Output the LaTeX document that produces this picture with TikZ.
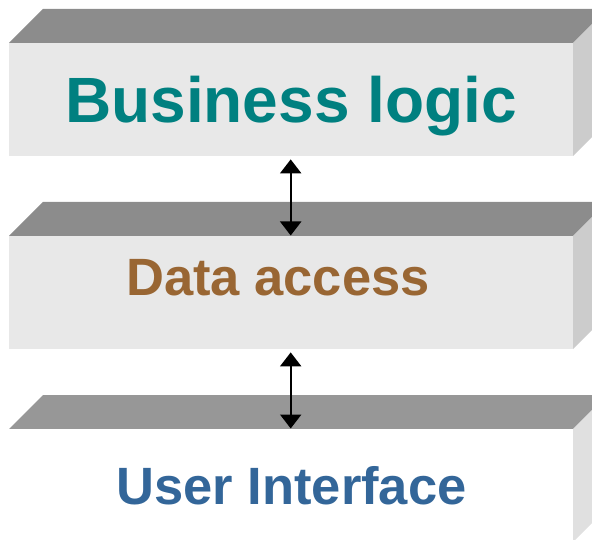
\documentclass[tikz,border=0pt]{standalone}
\usepackage{fontspec}
\setmainfont{Liberation Sans}
\usetikzlibrary{arrows.meta}
\definecolor{topA}{HTML}{8C8C8C}
\definecolor{topB}{HTML}{979797}
\definecolor{frontA}{HTML}{E8E8E8}
\definecolor{sideA}{HTML}{CCCCCC}
\definecolor{sideB}{HTML}{E0E0E0}
\definecolor{teal}{HTML}{008080}
\definecolor{brownc}{HTML}{996633}
\definecolor{bluec}{HTML}{336699}
\tikzset{
  front/.style={draw=none,inner sep=0pt,minimum width=564pt,minimum height=113pt,anchor=north west},
  lbl/.style={anchor=base,inner sep=0pt,font=\bfseries},
  link/.style={line width=2.2pt,{Triangle[length=14pt,width=21pt]}-{Triangle[length=14pt,width=21pt]},shorten <=3pt,shorten >=0.5pt}
}
\newcommand{\layerbox}[5]{% name, top y, topcolor, frontcolor, sidecolor
  \fill[#3] (9,#2+34) -- (43,#2) -- (607,#2) -- (573,#2+34) -- cycle;
  \fill[#5] (573,#2+34) -- (607,#2) -- (607,#2+113) -- (573,#2+147) -- cycle;
  \node[front,fill=#4] (#1) at (9,#2+34) {};
}
\begin{document}
\begin{tikzpicture}[x=1pt,y=-1pt]
\useasboundingbox (0,0) rectangle (592,540);
\clip (0,0) rectangle (592,540);
\layerbox{bl}{9}{topA}{frontA}{sideA}
\layerbox{da}{202}{topA}{frontA}{sideA}
\layerbox{ui}{395}{topB}{white}{sideB}
\node[lbl,font=\fontsize{64}{70}\selectfont\bfseries,text=teal] (tbl) at (291,123) {Business logic};
\node[lbl,font=\fontsize{52.5}{60}\selectfont\bfseries,text=brownc] (tda) at (278,296) {Data access};
\node[lbl,font=\fontsize{52.5}{60}\selectfont\bfseries,text=bluec] (tui) at (291.5,504) {User Interface};
\draw[link] ([xshift=-0.5pt]bl.south) -- ([xshift=-0.5pt]da.north);
\draw[link] ([xshift=-0.5pt]da.south) -- ([xshift=-0.5pt]ui.north);
\end{tikzpicture}
\end{document}
